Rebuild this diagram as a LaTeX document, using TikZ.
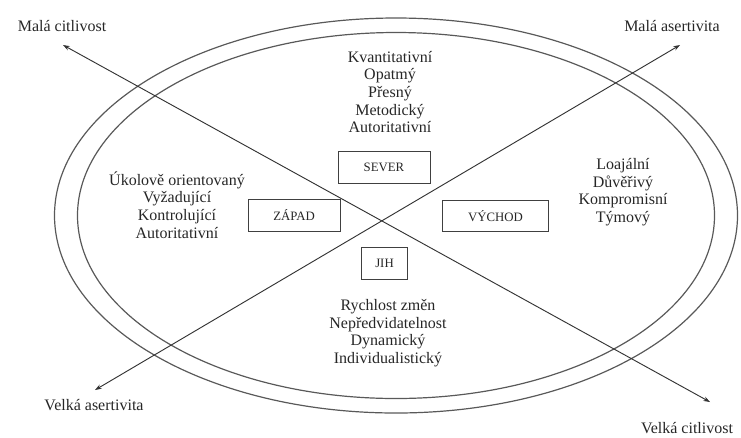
\documentclass[tikz,border=0pt]{standalone}
\usepackage{fontspec}
\setmainfont{Liberation Serif}
\usetikzlibrary{arrows.meta, positioning}

\begin{document}
\begin{tikzpicture}
                        [x=0.75pt, y=-0.75pt,
                         every node/.style={font=\fontsize{12}{13.2}\selectfont, text=black!85, align=center},
                         dirbox/.style={draw=black!75, line width=0.7pt, minimum height=23.5pt, inner sep=0pt,
                                        font=\fontsize{9.6}{11}\selectfont},
                         axis/.style={draw=black!80, line width=0.7pt, {Stealth[length=5pt, width=3.5pt]}-{Stealth[length=5pt, width=3.5pt]}},
                         ring/.style={draw=black!65, line width=0.9pt}]

                        \useasboundingbox (0,0) rectangle (741,437);

                        % Ellipses
                        \coordinate (mid) at (396,215.5);
                        \draw[ring] (mid) ellipse [x radius=341.5, y radius=197.5];
                        \draw[ring] (mid) ellipse [x radius=318.5, y radius=183];

                        % Axes
                        \coordinate (mc) at (63,45);
                        \coordinate (vc) at (710,402);
                        \coordinate (ma) at (680,45);
                        \coordinate (va) at (95,390);
                        \draw[axis] (mc) -- (vc);
                        \draw[axis] (va) -- (ma);

                        \node (mcl) at (62,26) {Malá citlivost};
                        \node (mal) at (672,26) {Malá asertivita};
                        \node (val) at (94,405) {Velká asertivita};
                        \node (vcl) at (687,428) {Velká citlivost};

                        % Directions
                        \node[dirbox, minimum width=69pt] (sever) at (384,167.5) {SEVER};
                        \node[dirbox, minimum width=69pt] (zapad) at (294,215.5) {ZÁPAD};
                        \node[dirbox, minimum width=80pt] (vychod) at (495.5,216) {VÝCHOD};
                        \node[dirbox, minimum width=34pt] (jih) at (384.5,263.5) {JIH};

                        % Descriptions
                        \node (severtxt) at (390,92) {Kvantitativní\\ Opatmý\\ Přesný\\ Metodický\\ Autoritativní};
                        \node (zapadtxt) at (177,205) {Úkolově orientovaný\\ Vyžadující\\ Kontrolující\\ Autoritativní};
                        \node (vychodtxt) at (623,192) {Loajální\\ Důvěřivý\\ Kompromisní\\ Týmový};
                        \node (jihtxt) at (388,333) {Rychlost změn\\ Nepředvidatelnost\\ Dynamický\\ Individualistický};
                    \end{tikzpicture}
\end{document}
